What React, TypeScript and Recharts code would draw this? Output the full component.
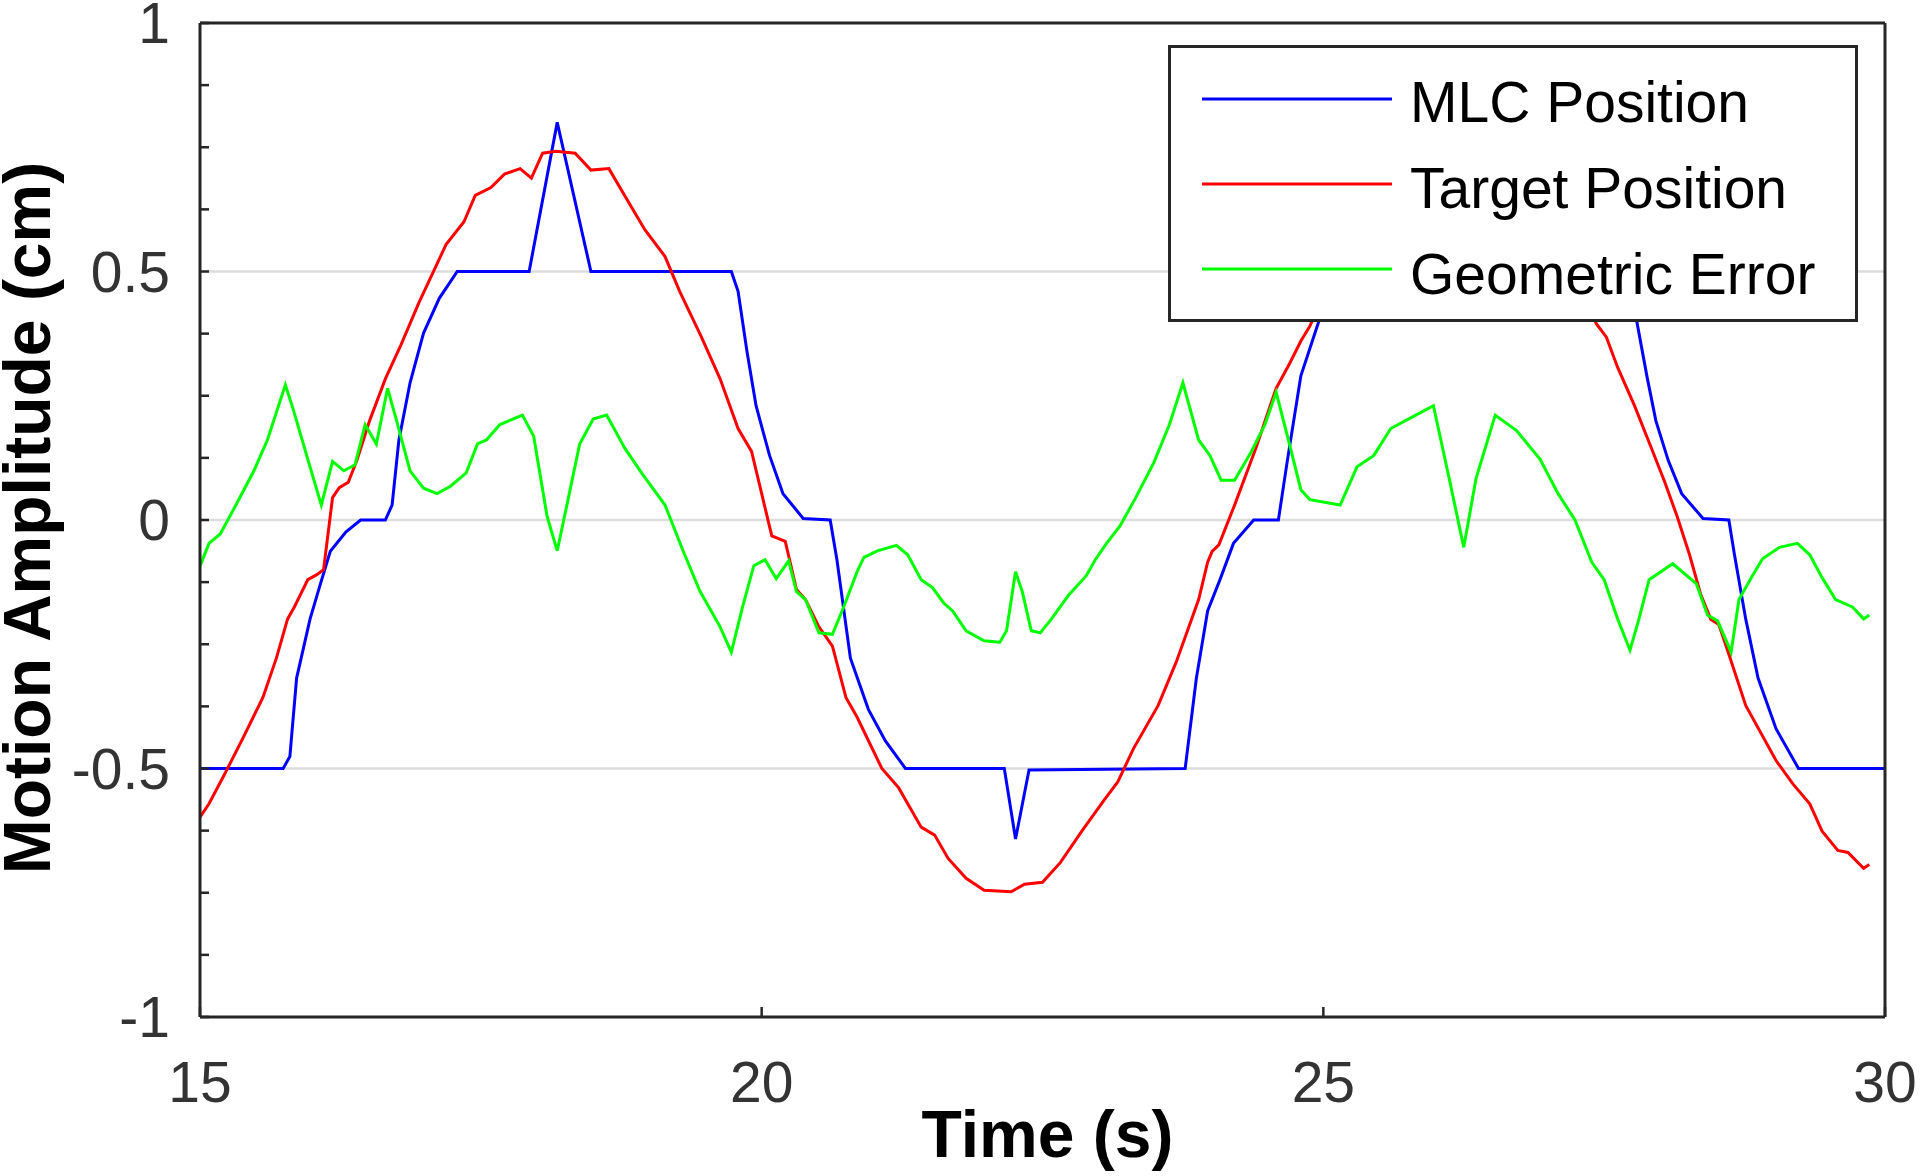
import React from 'react';
import { LineChart, Line, XAxis, YAxis, CartesianGrid, Legend } from 'recharts';

const FONT = '"Liberation Sans", Arial, Helvetica, sans-serif';
const AXIS_COLOR = '#262626';

const xTicks = [15, 20, 25, 30];
const yTicks = [-1, -0.875, -0.75, -0.625, -0.5, -0.375, -0.25, -0.125, 0, 0.125, 0.25, 0.375, 0.5, 0.625, 0.75, 0.875, 1];
const yLabelTicks = [-1, -0.5, 0, 0.5, 1];
const gridValues = [-0.5, 0, 0.5];

const seriesNames = ['MLC Position', 'Target Position', 'Geometric Error'];
const seriesColors = ['#0000ff', '#ff0000', '#00ff00'];

const mlcTime = [15.0, 15.74, 15.8, 15.86, 15.98, 16.07, 16.16, 16.3, 16.43, 16.65, 16.71, 16.77, 16.87, 16.99, 17.13, 17.29, 17.93, 18.18, 18.48, 19.73, 19.79, 19.87, 19.95, 20.07, 20.19, 20.37, 20.61, 20.67, 20.79, 20.95, 21.1, 21.28, 22.16, 22.26, 22.38, 23.77, 23.87, 23.97, 24.08, 24.2, 24.38, 24.6, 24.68, 24.8, 24.96, 25.05, 25.15, 27.65, 27.79, 27.88, 27.96, 28.07, 28.19, 28.38, 28.61, 28.66, 28.76, 28.87, 29.03, 29.23, 30.0];
const mlcValue = [-0.5, -0.5, -0.476, -0.318, -0.199, -0.13, -0.063, -0.024, 0.0, 0.0, 0.03, 0.16, 0.276, 0.376, 0.446, 0.5, 0.5, 0.8, 0.5, 0.5, 0.46, 0.338, 0.23, 0.13, 0.053, 0.003, 0.0, -0.08, -0.278, -0.381, -0.444, -0.5, -0.5, -0.642, -0.503, -0.5, -0.318, -0.183, -0.12, -0.047, 0.0, 0.0, 0.12, 0.29, 0.4, 0.46, 0.5, 0.5, 0.4, 0.29, 0.2, 0.12, 0.053, 0.003, 0.0, -0.07, -0.199, -0.318, -0.42, -0.5, -0.5];

const targetTime = [15.0, 15.08, 15.22, 15.38, 15.56, 15.68, 15.78, 15.84, 15.96, 16.04, 16.1, 16.18, 16.24, 16.32, 16.4, 16.51, 16.65, 16.79, 16.95, 17.19, 17.35, 17.45, 17.59, 17.71, 17.85, 17.95, 18.05, 18.17, 18.34, 18.48, 18.64, 18.78, 18.96, 19.14, 19.27, 19.46, 19.63, 19.79, 19.91, 20.09, 20.21, 20.31, 20.39, 20.51, 20.63, 20.75, 20.85, 21.07, 21.22, 21.42, 21.54, 21.66, 21.82, 21.98, 22.22, 22.34, 22.5, 22.66, 22.85, 23.05, 23.17, 23.31, 23.53, 23.69, 23.89, 23.97, 24.01, 24.07, 24.21, 24.4, 24.58, 24.7, 24.8, 24.88, 25.1, 25.4, 25.8, 26.2, 26.6, 27.0, 27.3, 27.43, 27.52, 27.62, 27.77, 27.92, 28.04, 28.15, 28.26, 28.36, 28.45, 28.52, 28.61, 28.76, 29.03, 29.18, 29.33, 29.44, 29.58, 29.67, 29.81, 29.86];
const targetValue = [-0.598, -0.571, -0.511, -0.44, -0.357, -0.278, -0.199, -0.175, -0.12, -0.11, -0.1, 0.045, 0.065, 0.076, 0.122, 0.2, 0.284, 0.353, 0.438, 0.554, 0.6, 0.653, 0.669, 0.696, 0.707, 0.688, 0.738, 0.742, 0.738, 0.704, 0.707, 0.653, 0.584, 0.53, 0.46, 0.37, 0.284, 0.184, 0.138, -0.032, -0.043, -0.14, -0.16, -0.215, -0.254, -0.357, -0.397, -0.5, -0.539, -0.618, -0.634, -0.681, -0.721, -0.745, -0.748, -0.733, -0.729, -0.689, -0.626, -0.563, -0.527, -0.46, -0.373, -0.286, -0.16, -0.085, -0.063, -0.05, 0.03, 0.145, 0.265, 0.315, 0.36, 0.39, 0.5, 0.62, 0.71, 0.75, 0.73, 0.62, 0.47, 0.395, 0.368, 0.307, 0.23, 0.145, 0.076, 0.007, -0.07, -0.15, -0.2, -0.21, -0.27, -0.373, -0.484, -0.531, -0.571, -0.626, -0.665, -0.669, -0.701, -0.693];

const errorTime = [15.0, 15.08, 15.18, 15.32, 15.48, 15.6, 15.76, 15.82, 15.96, 16.08, 16.18, 16.28, 16.38, 16.47, 16.57, 16.67, 16.75, 16.87, 16.99, 17.11, 17.23, 17.37, 17.47, 17.55, 17.67, 17.87, 17.97, 18.09, 18.18, 18.28, 18.38, 18.5, 18.62, 18.78, 18.94, 19.14, 19.3, 19.45, 19.63, 19.73, 19.83, 19.93, 20.03, 20.13, 20.24, 20.31, 20.39, 20.51, 20.63, 20.73, 20.85, 20.91, 21.03, 21.2, 21.3, 21.42, 21.52, 21.62, 21.7, 21.82, 21.98, 22.12, 22.18, 22.26, 22.32, 22.4, 22.48, 22.58, 22.73, 22.89, 22.97, 23.07, 23.19, 23.33, 23.49, 23.63, 23.75, 23.89, 23.99, 24.09, 24.21, 24.36, 24.48, 24.58, 24.69, 24.8, 24.88, 25.15, 25.3, 25.45, 25.6, 25.79, 25.98, 26.12, 26.25, 26.36, 26.53, 26.72, 26.93, 27.09, 27.24, 27.39, 27.5, 27.62, 27.73, 27.81, 27.9, 28.11, 28.32, 28.42, 28.51, 28.63, 28.7, 28.82, 28.91, 29.06, 29.22, 29.33, 29.44, 29.56, 29.71, 29.81, 29.86];
const errorValue = [-0.093, -0.047, -0.028, 0.03, 0.099, 0.161, 0.272, 0.23, 0.122, 0.03, 0.118, 0.099, 0.111, 0.192, 0.153, 0.265, 0.2, 0.099, 0.064, 0.053, 0.068, 0.095, 0.153, 0.161, 0.192, 0.211, 0.169, 0.007, -0.062, 0.045, 0.153, 0.203, 0.211, 0.145, 0.092, 0.03, -0.062, -0.143, -0.215, -0.266, -0.175, -0.092, -0.08, -0.118, -0.082, -0.144, -0.16, -0.227, -0.23, -0.175, -0.104, -0.075, -0.062, -0.051, -0.07, -0.12, -0.136, -0.167, -0.183, -0.223, -0.243, -0.246, -0.223, -0.104, -0.144, -0.223, -0.227, -0.199, -0.152, -0.112, -0.08, -0.047, -0.012, 0.045, 0.115, 0.192, 0.276, 0.161, 0.13, 0.08, 0.08, 0.138, 0.192, 0.257, 0.16, 0.061, 0.041, 0.03, 0.107, 0.13, 0.184, 0.207, 0.23, 0.084, -0.055, 0.084, 0.211, 0.18, 0.122, 0.053, 0.0, -0.085, -0.12, -0.199, -0.262, -0.199, -0.12, -0.088, -0.128, -0.191, -0.203, -0.266, -0.16, -0.112, -0.078, -0.055, -0.047, -0.07, -0.116, -0.16, -0.175, -0.199, -0.191];

const toSeries = (ts: number[], vs: number[]) => ts.map((t, i) => ({ t, v: vs[i] }));
const mlcData = toSeries(mlcTime, mlcValue);
const targetData = toSeries(targetTime, targetValue);
const errorData = toSeries(errorTime, errorValue);

const formatY = (v: number) => (yLabelTicks.includes(v) ? String(v) : '');

const XTitle = (props: any) => {
  const vb = props.viewBox || { x: 200, y: 1017, width: 1685, height: 159 };
  return (
    <text x={vb.x + vb.width / 2 + 5} y={vb.y + 140} textAnchor="middle" fontFamily={FONT} fontWeight="bold" fontSize={66} fill="#000">
      Time (s)
    </text>
  );
};

const YTitle = (props: any) => {
  const vb = props.viewBox || { x: 0, y: 23, width: 200, height: 994 };
  const cx = vb.x + 50;
  const cy = vb.y + vb.height / 2 - 2;
  return (
    <text x={cx} y={cy} textAnchor="middle" transform={`rotate(-90, ${cx}, ${cy})`} fontFamily={FONT} fontWeight="bold" fontSize={66} fill="#000">
      Motion Amplitude (cm)
    </text>
  );
};

const LegendBox = (props: any) => {
  const payload = (props.payload || []).slice().sort(
    (a: any, b: any) => seriesNames.indexOf(a.value) - seriesNames.indexOf(b.value)
  );
  return (
    <svg width={690} height={277} style={{ display: 'block' }}>
      <rect x={1.5} y={1.5} width={687} height={274} fill="#ffffff" stroke={AXIS_COLOR} strokeWidth={3} />
      {payload.map((p: any, i: number) => (
        <g key={p.value}>
          <line x1={34} x2={224} y1={54 + i * 85} y2={54 + i * 85} stroke={p.color} strokeWidth={3} />
          <text x={242} y={77 + i * 86} fontFamily={FONT} fontSize={57} fill="#000">
            {p.value}
          </text>
        </g>
      ))}
    </svg>
  );
};

export default function App() {
  return (
    <div style={{ position: 'absolute', left: 0, top: 0, background: '#fff' }}>
      <LineChart width={1920} height={1176} margin={{ top: 0, right: 0, bottom: 0, left: 0 }}>
        <CartesianGrid horizontal={true} vertical={false} horizontalValues={gridValues} stroke="#dcdcdc" strokeWidth={2.5} />
        <XAxis
          dataKey="t"
          type="number"
          domain={[15, 30]}
          ticks={xTicks}
          interval={0}
          allowDataOverflow
          height={159}
          tickSize={-10}
          tickMargin={55}
          axisLine={{ stroke: AXIS_COLOR, strokeWidth: 3 }}
          tickLine={{ stroke: AXIS_COLOR, strokeWidth: 2.5 }}
          tick={{ fill: '#333', fontSize: 57, fontFamily: FONT }}
          label={<XTitle />}
        />
        <XAxis
          xAxisId="top"
          orientation="top"
          type="number"
          domain={[15, 30]}
          ticks={xTicks}
          interval={0}
          allowDataOverflow
          height={23}
          tickSize={-10}
          axisLine={{ stroke: AXIS_COLOR, strokeWidth: 3 }}
          tickLine={{ stroke: AXIS_COLOR, strokeWidth: 2.5 }}
          tick={false}
        />
        <YAxis
          type="number"
          domain={[-1, 1]}
          ticks={yTicks}
          interval={0}
          allowDataOverflow
          width={200}
          tickSize={-9}
          tickMargin={39}
          tickFormatter={formatY}
          axisLine={{ stroke: AXIS_COLOR, strokeWidth: 3 }}
          tickLine={{ stroke: AXIS_COLOR, strokeWidth: 2.5 }}
          tick={{ fill: '#333', fontSize: 57, fontFamily: FONT }}
          label={<YTitle />}
        />
        <YAxis
          yAxisId="right"
          orientation="right"
          type="number"
          domain={[-1, 1]}
          ticks={yTicks}
          interval={0}
          allowDataOverflow
          width={35}
          tickSize={-9}
          axisLine={{ stroke: AXIS_COLOR, strokeWidth: 3 }}
          tickLine={{ stroke: AXIS_COLOR, strokeWidth: 2.5 }}
          tick={false}
        />
        <Legend
          layout="vertical"
          align="center"
          verticalAlign="middle"
          content={<LegendBox />}
          wrapperStyle={{ left: 1168, top: 45, width: 690, height: 277 }}
        />
        <Line data={mlcData} dataKey="v" name={seriesNames[0]} type="linear" stroke={seriesColors[0]} strokeWidth={3} dot={false} activeDot={false} isAnimationActive={false} />
        <Line data={targetData} dataKey="v" name={seriesNames[1]} type="linear" stroke={seriesColors[1]} strokeWidth={3} dot={false} activeDot={false} isAnimationActive={false} />
        <Line data={errorData} dataKey="v" name={seriesNames[2]} type="linear" stroke={seriesColors[2]} strokeWidth={3} dot={false} activeDot={false} isAnimationActive={false} />
      </LineChart>
    </div>
  );
}
